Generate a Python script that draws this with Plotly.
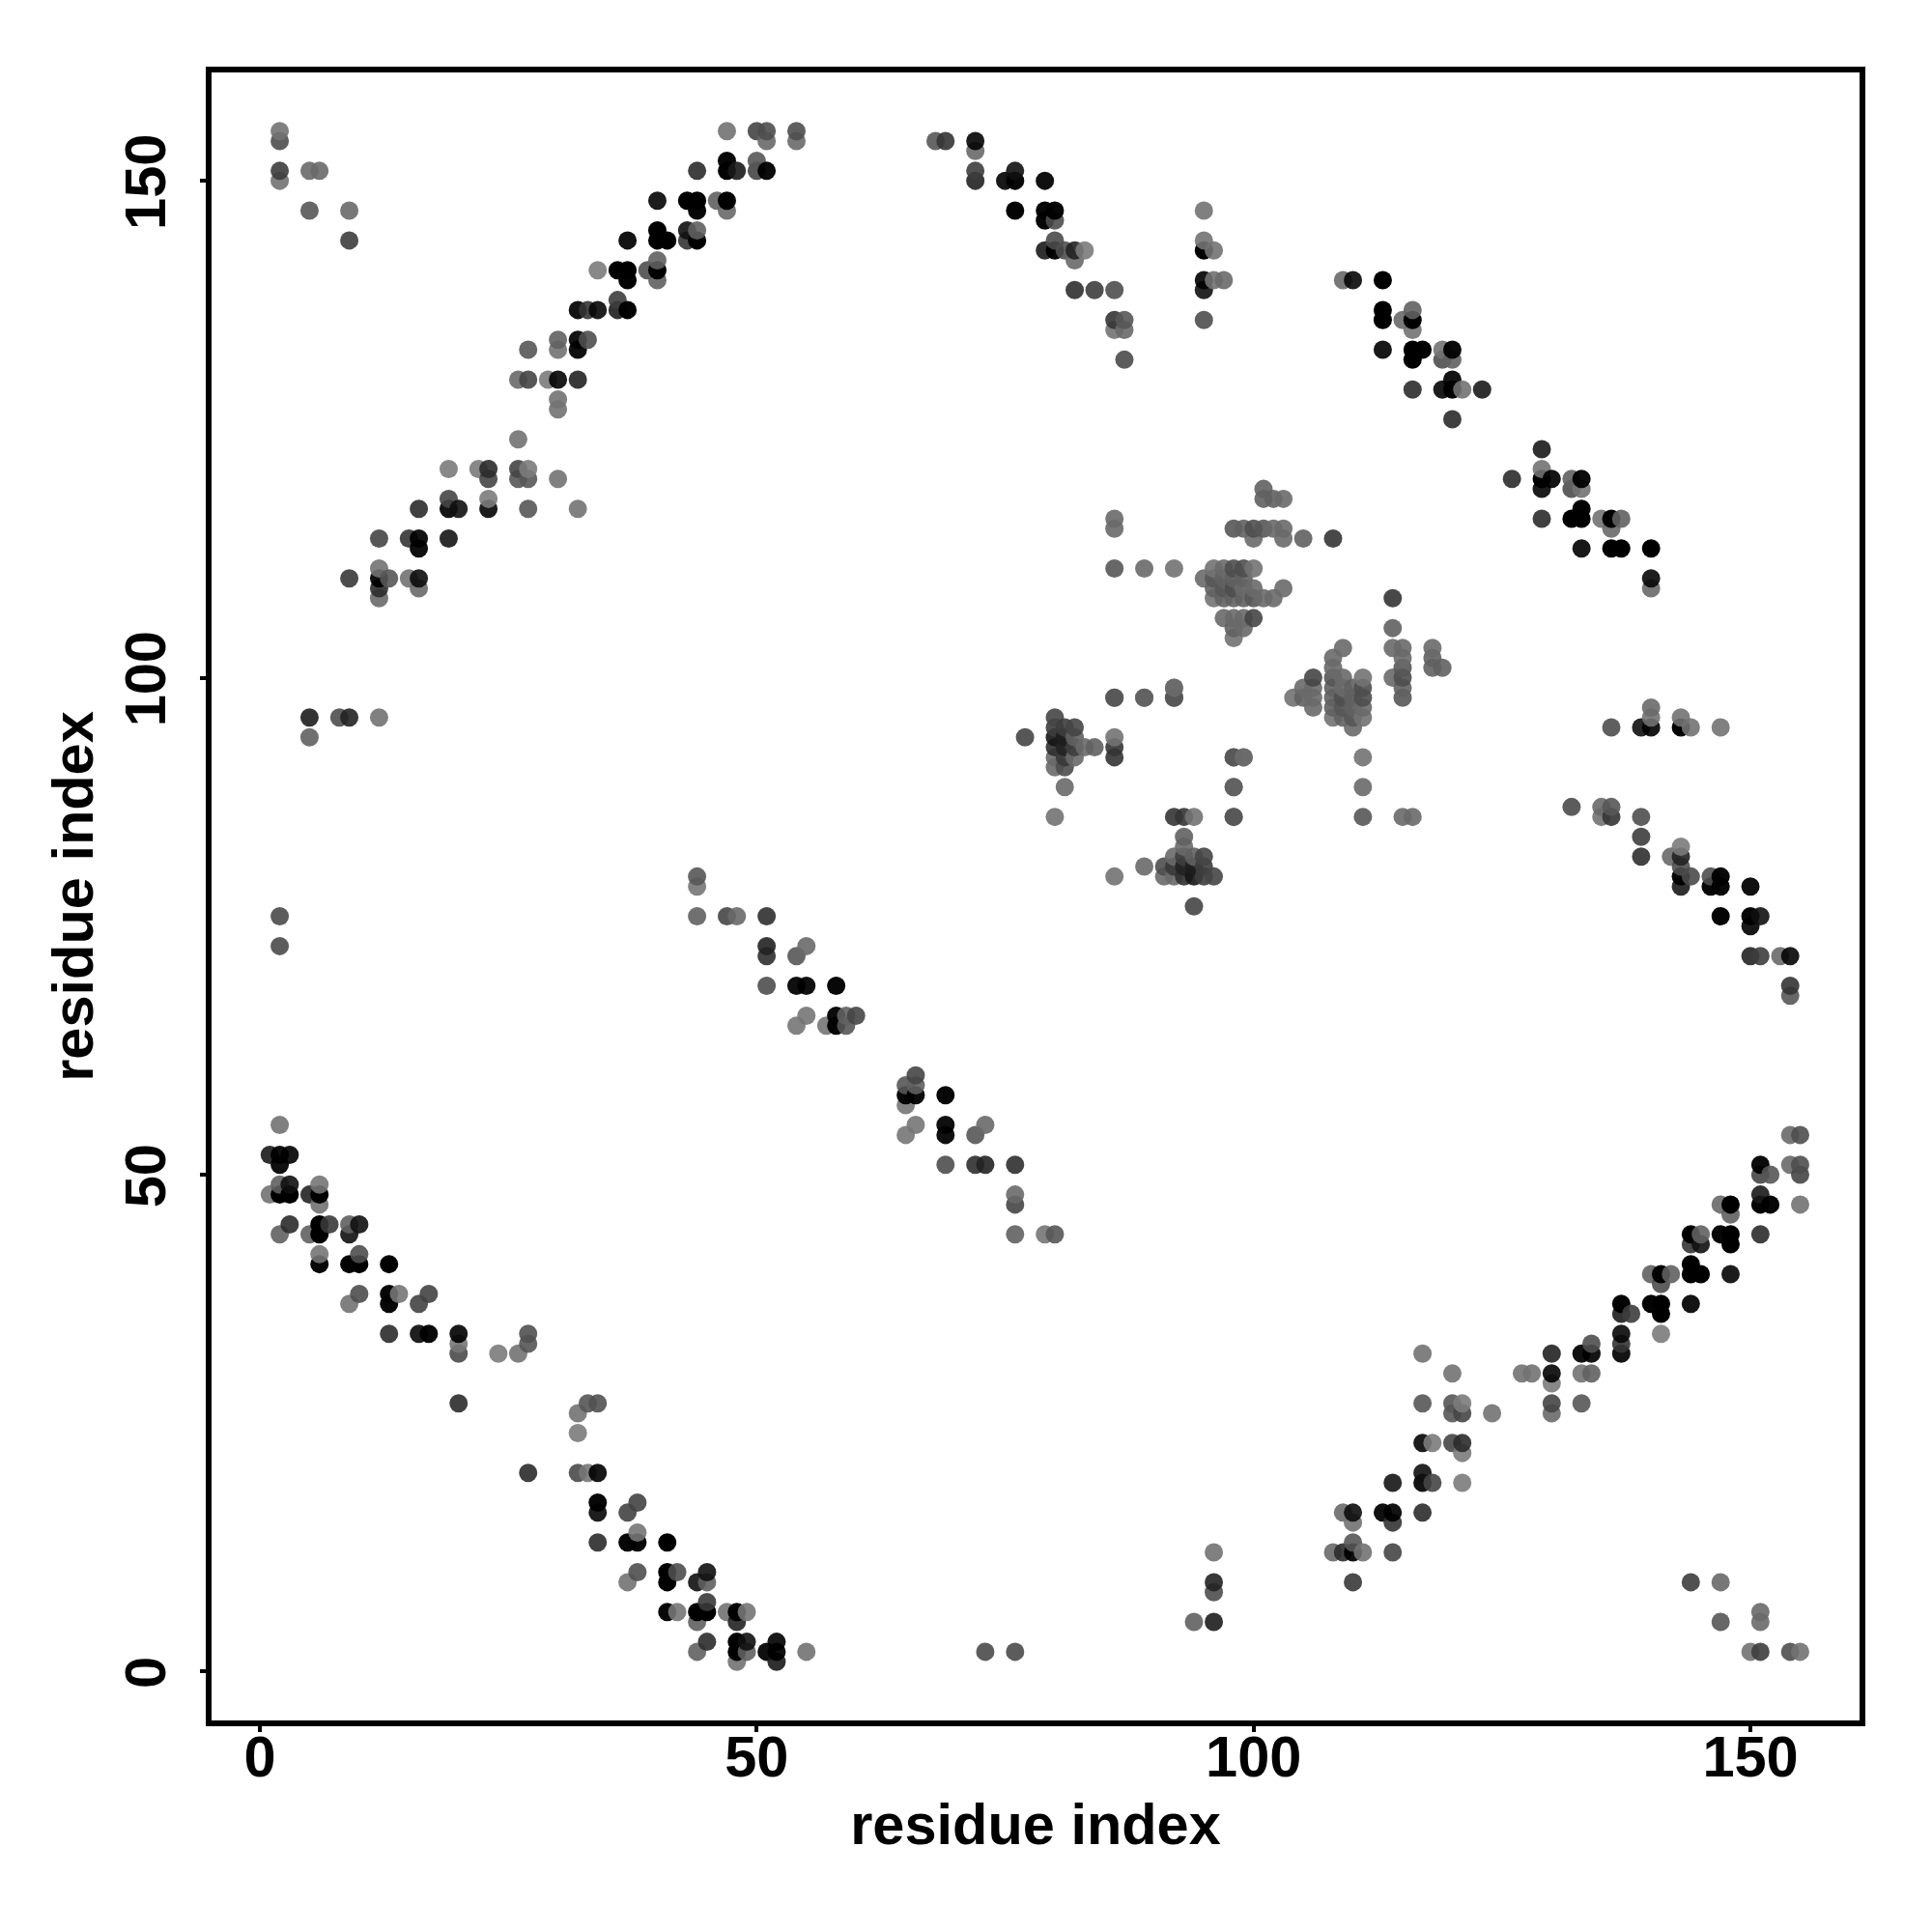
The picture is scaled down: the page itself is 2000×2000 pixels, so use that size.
import plotly.graph_objects as go

# contacts as (residue i, residue j, observed grey level); the map is symmetric
lower_left_arc = [
 (33,27,0x66),(34,27,0x62),(32,26,0x80),(32,24,0x88),(27,20,0x40),(32,20,0x5c),(33,20,0x84),(34,20,0x18),
 (34,17,0x08),(34,16,0x20),(38,17,0x55),(37,16,0x55),(34,13,0x40),(37,13,0x08),(38,13,0x08),(38,14,0x84),
 (41,13,0x00),(38,10,0x60),(37,9,0x80),(41,10,0x00),(41,9,0x00),(42,10,0x60),(44,9,0x28),(45,10,0x28),
 (45,9,0x70),(41,6,0x08),(42,6,0x84),(44,6,0x00),(45,6,0x00),(45,7,0x4c),(44,5,0x70),(47,6,0x80),
 (48,6,0x00),(49,6,0x84),(48,5,0x38),(45,3,0x40),(44,2,0x70),(48,3,0x00),(49,3,0x28),(48,2,0x00),
 (49,2,0x70),(48,1,0x80),(51,2,0x10),(52,3,0x18),(52,2,0x10),(52,1,0x30),(55,2,0x80),
]
far_low_contacts = [
 (73,2,0x5c),(76,2,0x5c),(144,9,0x50),(147,9,0x78),(147,5,0x68),(151,6,0x78),(151,5,0x78),
 (150,2,0x80),(151,2,0x50),(154,2,0x60),(155,2,0x80),
 (96,12,0x80),(96,9,0x38),(96,8,0x60),(96,5,0x34),(94,5,0x70),
]
mid_segment = [
 (44,80,0x68),(44,79,0x84),(44,76,0x70),(47,76,0x58),(48,76,0x78),(51,76,0x44),(51,73,0x38),(51,72,0x44),
 (55,73,0x78),(54,72,0x68),(51,69,0x60),(54,69,0x10),(55,69,0x10),(58,69,0x08),(55,66,0x84),(54,65,0x84),
 (57,65,0x84),(58,66,0x0c),(58,65,0x08),(59,66,0x70),(59,65,0x68),(60,66,0x58),
]
right_arc_low = [
 (132,87,0x5c),(135,87,0x78),(135,86,0x80),(136,87,0x68),(136,86,0x48),(139,86,0x60),(139,84,0x50),(139,82,0x44),
 (142,82,0x78),(143,83,0x88),(143,82,0x38),(143,81,0x60),(143,80,0x08),(143,79,0x30),(144,80,0x5c),
 (146,79,0x08),(146,80,0x60),(147,80,0x08),(147,79,0x08),(150,79,0x10),(147,76,0x04),(150,76,0x08),
 (151,76,0x28),(150,75,0x18),(150,72,0x38),(151,72,0x50),(153,72,0x78),(154,72,0x1c),(154,69,0x48),(154,68,0x68),
]
upper_arc = [
 (95,147,0x80),(95,144,0x80),(95,143,0x00),(96,143,0x80),(95,140,0x18),(95,139,0x28),(96,140,0x80),
 (97,140,0x78),(95,136,0x60),(109,140,0x78),(110,140,0x20),(113,140,0x00),(113,137,0x00),(113,136,0x00),
 (115,136,0x78),(116,137,0x70),(116,136,0x00),(116,135,0x80),(113,133,0x18),(116,133,0x00),(117,133,0x04),
 (116,132,0x00),(119,133,0x80),(120,133,0x0c),(119,132,0x60),(120,132,0x70),(120,130,0x14),(119,129,0x1c),
 (120,129,0x04),(121,129,0x80),(123,129,0x30),(116,129,0x40),(120,126,0x40),
]
lower_right_arc_top = [
 (154,54,0x78),(155,54,0x60),(151,51,0x0c),(151,50,0x58),(152,50,0x68),(154,51,0x78),(155,51,0x60),(155,50,0x58),
 (155,47,0x80),(151,48,0x30),(151,47,0x04),(152,47,0x08),(151,44,0x40),(147,47,0x78),(148,47,0x00),(148,46,0x70),
 (147,44,0x08),(148,44,0x00),(148,43,0x00),(148,40,0x1c),(144,44,0x00),(145,44,0x70),(144,43,0x48),(145,43,0x28),
 (144,41,0x00),(144,40,0x00),(145,40,0x00),(144,37,0x14),(140,40,0x70),(141,40,0x00),(142,40,0x70),(141,39,0x60),
 (140,37,0x04),(141,37,0x00),(141,36,0x00),(141,34,0x88),(137,37,0x04),(137,36,0x34),(138,36,0x50),(137,34,0x20),
 (137,33,0x48),(137,32,0x14),(133,32,0x10),(134,32,0x14),(134,33,0x60),(130,32,0x38),(130,30,0x1c),(130,29,0x88),
 (130,27,0x58),(130,26,0x78),(127,30,0x80),(128,30,0x80),(133,30,0x80),(134,30,0x70),(133,27,0x68),
]
lower_right_arc_bottom = [
 (117,32,0x80),(120,30,0x80),(117,27,0x68),(120,27,0x68),(121,27,0x88),(120,26,0x68),(121,26,0x58),(124,26,0x80),
 (117,23,0x1c),(118,23,0x88),(120,23,0x58),(121,23,0x40),(121,22,0x88),(114,19,0x2c),(117,20,0x28),(117,19,0x14),
 (118,19,0x58),(121,19,0x88),(109,16,0x78),(110,16,0x24),(110,15,0x80),(113,16,0x10),(114,16,0x14),(114,15,0x48),
 (117,16,0x40),(110,13,0x68),(108,12,0x78),(109,12,0x40),(110,12,0x10),(111,12,0x80),(114,12,0x58),(110,9,0x4c),
]
cluster_a = [
 (94,77,0x58),(86,80,0x80),(89,81,0x78),(92,86,0x48),(93,86,0x48),(94,86,0x80),(98,86,0x68),(98,89,0x70),
 (98,92,0x68),(99,92,0x78),(92,99,0x78),(92,98,0x68),(89,98,0x70),(86,98,0x68),
 (93,84,0x70),(93,83,0x78),(92,82,0x78),(93,82,0x50),(94,82,0x70),(95,82,0x58),(91,81,0x60),(92,81,0x4c),
 (93,81,0x38),(94,81,0x34),(95,81,0x50),(91,80,0x78),(92,80,0x78),(93,80,0x44),(94,80,0x2c),(95,80,0x50),(96,80,0x58),
]
cluster_b = [
 (101,119,0x70),(101,118,0x70),(102,118,0x70),(103,118,0x78),(98,115,0x68),(99,115,0x70),(100,115,0x60),
 (101,115,0x68),(102,115,0x78),(103,115,0x78),(100,114,0x78),(103,114,0x78),(105,114,0x70),(108,114,0x48),
 (86,116,0x78),(86,115,0x78),(86,111,0x68),(89,111,0x78),(92,111,0x80),
 (96,111,0x80),(97,111,0x78),(98,111,0x60),(99,111,0x60),(100,111,0x80),
 (95,110,0x78),(96,110,0x68),(97,110,0x70),(98,110,0x70),(99,110,0x70),
 (96,109,0x70),(97,109,0x68),(98,109,0x60),(99,109,0x78),(100,109,0x78),(103,109,0x78),
 (96,108,0x80),(97,108,0x70),(98,108,0x70),(99,108,0x70),(100,108,0x68),(101,108,0x78),(102,108,0x78),
 (97,106,0x78),(98,106,0x78),(99,106,0x78),(100,106,0x58),(98,105,0x70),(99,105,0x78),(98,104,0x80),
]

x_tick_values = [0, 50, 100, 150]
y_tick_values = [0, 50, 100, 150]
x_title = "residue index"
y_title = "residue index"

contacts = (lower_left_arc + far_low_contacts + mid_segment + right_arc_low + upper_arc
            + lower_right_arc_top + lower_right_arc_bottom + cluster_a + cluster_b)
both = [(i, j, v) for i, j, v in contacts] + [(j, i, v) for i, j, v in contacts]
both.sort(key=lambda p: (p[0], p[1]))


def rgba(v):
    if v < 26:
        return f"rgba(0,0,0,{1 - v / 255:.3f})"
    c = round((v - 25.5) / 0.9)
    return f"rgba({c},{c},{c},0.9)"


FONT = "Liberation Sans, Arial, sans-serif"
fig = go.Figure(go.Scatter(
    x=[p[0] for p in both], y=[p[1] for p in both], mode="markers",
    marker=dict(size=19, color=[rgba(p[2]) for p in both], line=dict(width=0)),
    showlegend=False, hoverinfo="skip"))

axis = dict(showgrid=False, zeroline=False, showline=True, mirror=True, linecolor="black", linewidth=6,
            ticks="outside", ticklen=6, tickwidth=4, tickcolor="black",
            tickfont=dict(family=FONT, size=59.5, color="black", weight="bold"),
            title_font=dict(family=FONT, size=59.5, color="black", weight="bold"))
fig.update_xaxes(range=[-4.86, 160.98], tickvals=x_tick_values, title_text=x_title, title_standoff=18,
                 ticklabelstandoff=-25, **axis)
fig.update_yaxes(range=[-4.91, 160.9], tickvals=y_tick_values, title_text=y_title, title_standoff=3,
                 ticklabelstandoff=12, ticklabelshift=10, tickangle=-90, **axis)
fig.update_layout(width=1984, height=1984, autosize=False, paper_bgcolor="white", plot_bgcolor="white",
                  margin=dict(l=211, r=67, t=67, b=211, autoexpand=False))
fig.write_html("out.html")
